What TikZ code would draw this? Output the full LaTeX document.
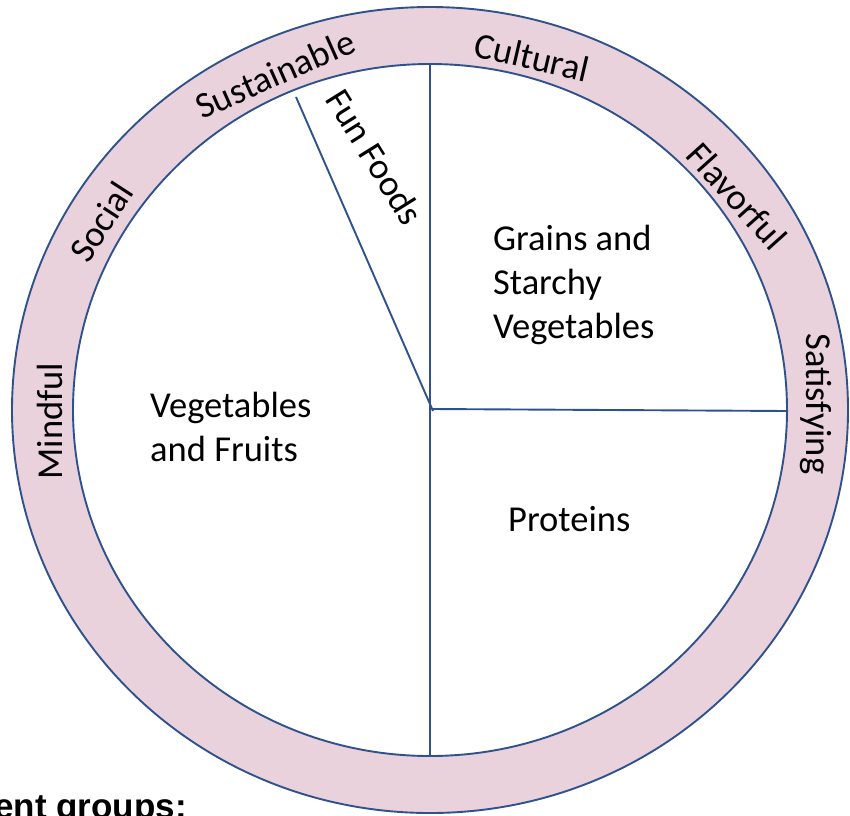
\documentclass[tikz,border=0pt]{standalone}
\usepackage{fontspec}
\setmainfont{Carlito}
\newfontfamily\boldarial{Liberation Sans}
\definecolor{ringpink}{RGB}{234,210,220}
\definecolor{rimblue}{RGB}{47,82,140}
\begin{document}
\begin{tikzpicture}[x=1pt,y=-1pt,
  rim/.style={draw=rimblue,line width=1.9pt},
  lbl/.style={font=\fontsize{36.5}{44}\selectfont,inner sep=0pt},
  blk/.style={font=\fontsize{36.5}{44}\selectfont,inner sep=0pt,align=left}]
\useasboundingbox (0,0) rectangle (850,815);
\begin{scope}
\clip (0,0) rectangle (850,815);
% ring
\path[fill=ringpink,even odd rule] (430,410) ellipse [x radius=418,y radius=403]
  (430,410) ellipse [x radius=357,y radius=346];
\draw[rim] (430,410) ellipse [x radius=418,y radius=403];
\draw[rim] (430,410) ellipse [x radius=357,y radius=346];
% spokes
\coordinate (ctop) at (430,64);
\coordinate (cbot) at (430,756);
\coordinate (hubA) at (433,409);
\coordinate (cright) at (788,411);
\coordinate (cfun) at (296,97);
\coordinate (hubB) at (433,411);
\draw[rim] (ctop) -- (cbot);
\draw[rim] (hubA) -- (cright);
\draw[rim] (cfun) -- (hubB);
% ring labels
\node[lbl,rotate=90] (mindful) at (50,421) {Mindful};
\node[lbl,rotate=-90] (satisfying) at (816,404) {Satisfying};
\node[lbl,rotate=57] (social) at (101,222) {Social};
\node[lbl,rotate=24] (sustainable) at (275,74) {Sustainable};
\node[lbl,rotate=-13] (cultural) at (532,57) {Cultural};
\node[lbl,rotate=-48] (flavorful) at (737,196) {Flavorful};
% sectors
\node[lbl,rotate=-58] (fun) at (375,157) {Fun Foods};
\node[blk,anchor=base west] (veg) at (150,461) {Vegetables\\and Fruits};
\node[blk,anchor=base west] (grains) at (493,338) {Grains and\\Starchy\\Vegetables};
\node[lbl,anchor=base west] (prot) at (508,531) {Proteins};
% bottom caption
\node[font=\boldarial\bfseries\fontsize{35}{40}\selectfont,inner sep=0pt,anchor=base west] (cap) at (-6,818) {ent groups:};
\end{scope}
\end{tikzpicture}
\end{document}
